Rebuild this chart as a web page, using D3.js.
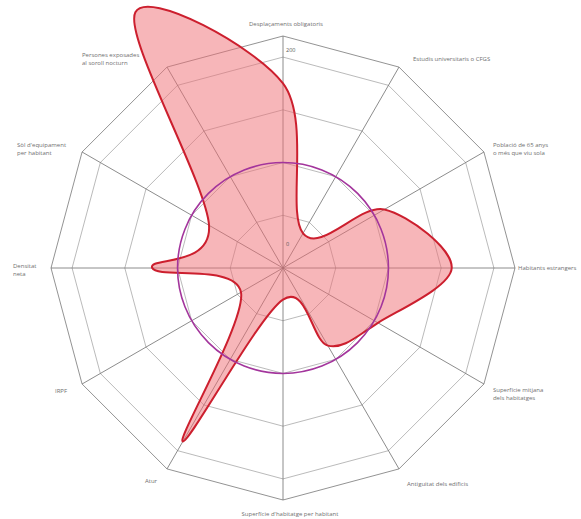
<!DOCTYPE html>
<html><head><meta charset="utf-8">
<script src="https://cdn.jsdelivr.net/npm/d3@7"></script>
<style>body{margin:0;background:#fff}svg{display:block}text{font-family:"Open Sans","DejaVu Sans",sans-serif}</style>
</head><body><svg id="c" width="581" height="519"></svg>
<script>
const axisLabels = [
  ["Desplaçaments obligatoris"],
  ["Estudis universitaris o CFGS"],
  ["Població de 65 anys","o més que viu sola"],
  ["Habitants estrangers"],
  ["Superfície mitjana","dels habitatges"],
  ["Antiguitat dels edificis"],
  ["Superfície d'habitatge per habitant"],
  ["Atur"],
  ["IRPF"],
  ["Densitat","neta"],
  ["Sòl d'equipament","per habitant"],
  ["Persones exposades","al soroll nocturn"]
];
const values = [175, 38, 111, 160, 104, 85, 30, 190, 46, 124, 81, 280];
const ringValues = [50, 100, 150, 200, 220];
const tickLabels = ["0", "200"];
const tickValues = [0, 200];
const referenceValue = 100;

const svg = d3.select("#c");
const cx = 283, cy = 268;
const r = d3.scaleLinear().domain([0, 220]).range([0, 232]);
const n = axisLabels.length;
const ang = d3.scaleLinear().domain([0, n]).range([0, 2 * Math.PI]);
const pt = (i, v) => [cx + r(v) * Math.sin(ang(i)), cy - r(v) * Math.cos(ang(i))];
const g = svg.append("g");

// rings
ringValues.forEach((v, k) => {
  g.append("polygon")
    .attr("points", d3.range(n).map(i => pt(i, v).join(",")).join(" "))
    .attr("fill", "none")
    .attr("stroke", k === ringValues.length - 1 ? "#777" : "#a8a8a8")
    .attr("stroke-width", 0.8);
});
// spokes
d3.range(n).forEach(i => {
  const p = pt(i, 220);
  g.append("line").attr("x1", cx).attr("y1", cy).attr("x2", p[0]).attr("y2", p[1])
    .attr("stroke", "#6e6e6e").attr("stroke-width", 0.8);
});

// data shape
const line = d3.lineRadial()
  .angle((d, i) => ang(i))
  .radius(d => r(d))
  .curve(d3.curveCardinalClosed.tension(0));
svg.append("path").attr("transform", `translate(${cx},${cy})`)
  .attr("d", line(values))
  .attr("fill", "rgba(240,110,115,0.5)")
  .attr("stroke", "#cc1f2e").attr("stroke-width", 2);

// reference circle
svg.append("circle").attr("cx", cx).attr("cy", cy).attr("r", r(referenceValue))
  .attr("fill", "none").attr("stroke", "#a3359c").attr("stroke-width", 1.6);

// tick labels
const tickOffsets = [24, 7];
tickValues.forEach((v, k) => {
  svg.append("text").attr("x", cx + 3).attr("y", cy - r(v) - tickOffsets[k] + 2)
    .attr("font-size", 5.5).attr("fill", "#555").text(tickLabels[k]);
});

// axis labels: placement rule by angular sector
const fs = 6, lh = 8;
function place(i, w, h, p) {
  const deg = Math.round(ang(i) * 180 / Math.PI);
  switch (deg) {
    case 0:   return [p[0] - w / 2 + 3, p[1] - 10];
    case 30:  return [p[0] + 14, p[1] - 6];
    case 60:  return [p[0] + 9, p[1] - 5];
    case 90:  return [p[0] + 3, p[1] + 2];
    case 120: return [p[0] + 9, p[1] + 8];
    case 150: return [p[0] + 8, p[1] + 17];
    case 180: return [p[0] - w / 2 + 7, p[1] + 16];
    case 210: return [p[0] - w / 2 - 16, p[1] + 14];
    case 240: return [p[0] - w - 15, p[1] + 9];
    case 270: return [p[0] - 38, p[1]];
    case 300: return [p[0] - 65, p[1] - 5];
    default:  return [p[0] - 85, p[1] - 10];
  }
}
axisLabels.forEach((lines, i) => {
  const p = pt(i, 220);
  const t = svg.append("text").attr("font-size", fs).attr("fill", "#707070");
  lines.forEach((l, j) => t.append("tspan").attr("dy", j ? lh : 0).text(l));
  const w = d3.max(t.selectAll("tspan").nodes(), nd => nd.getComputedTextLength());
  const h = (lines.length - 1) * lh;
  const [x, y] = place(i, w, h, p);
  t.attr("y", y);
  t.selectAll("tspan").attr("x", x);
});
</script></body></html>
